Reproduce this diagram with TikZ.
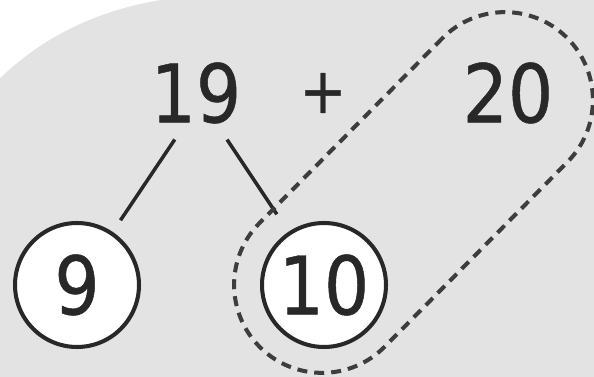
\documentclass[tikz,border=0pt]{standalone}
\usepackage{fontspec}
\setmainfont{DejaVu Sans}
\newfontfamily\digitfont[FakeStretch=0.88,FakeBold=0.6]{DejaVu Sans}
\usetikzlibrary{positioning,calc}
\definecolor{PaperGrey}{RGB}{227,227,227}
\definecolor{InkGrey}{RGB}{40,40,40}
\tikzset{num/.style={inner sep=0pt,font=\digitfont\fontsize{46}{46}\selectfont,text=InkGrey}, part/.style={circle,draw=InkGrey,fill=white,line width=2.3pt,minimum size=2.48cm,inner sep=0pt,font=\digitfont\fontsize{46}{46}\selectfont,text=InkGrey}, branch/.style={draw=InkGrey,line width=2pt}, group/.style={draw=InkGrey!90,line width=2.3pt,dash pattern=on 0.2cm off 0.14cm}}

\begin{document}
\begin{tikzpicture}[x=0.02cm,y=-0.02cm]
\useasboundingbox (0,0) rectangle (594,377);
\fill[PaperGrey] (0,0) rectangle (594,377);
\fill[white] (0,0) -- (0,78) .. controls (40,40) and (90,12) .. (160,0) -- cycle;
\node[num] (n19) at (196,93) {19};
\node[num,font=\digitfont\fontsize{36}{36}\selectfont] (plus) at (323,93) {+};
\node[num] (n20) at (508,93) {20};
\node[part] (c9) at (77,285) {9};
\node[part] (c10) at (324,285) {10};
\draw[branch,shorten <=1.12cm,shorten >=1.56cm] ([xshift=0.2cm]n19.center) -- (c9.center);
\draw[branch,shorten <=1.12cm,shorten >=1.7cm] (n19.center) -- (c10.center);
\node[group,rotate=45.3,minimum width=8.72cm,minimum height=3.52cm,rounded corners=1.76cm] (pair) at (413.5,192.5) {};
\end{tikzpicture}
\end{document}
